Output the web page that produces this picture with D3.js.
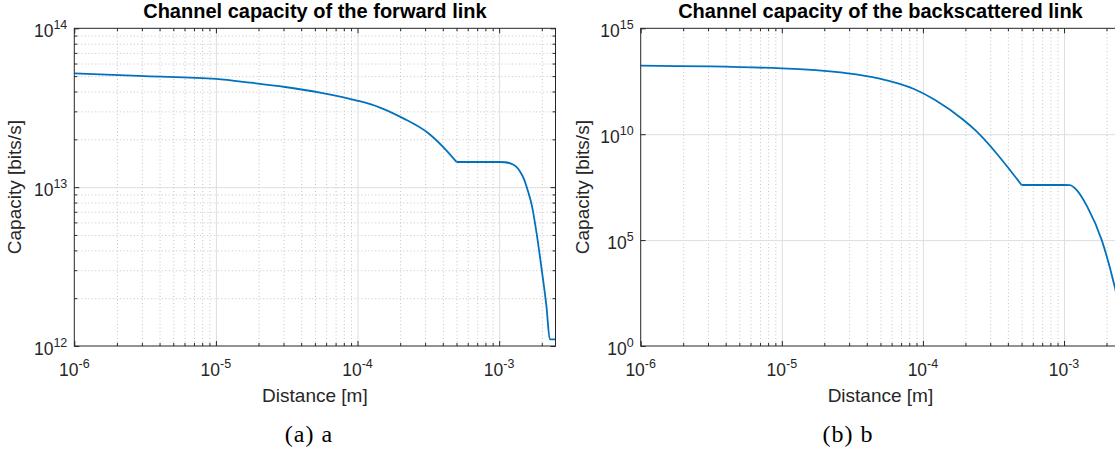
<!DOCTYPE html>
<html>
<head>
<meta charset="utf-8">
<script src="https://cdn.jsdelivr.net/npm/d3@7"></script>
<style>
  body { margin: 0; background: #fff; }
  svg { display: block; }
</style>
</head>
<body>
<div id="chart"></div>
<script>
// values: distance [m] -> capacity [bits/s]
let fwdDistance = [1e-6, 3.16e-6, 1e-5, 1.74e-5, 3.08e-5, 5.43e-5, 9.9e-5, 1.44e-4, 2.09e-4, 3.15e-4, 4.22e-4, 5e-4,
                   7e-4, 1e-3, 1.1e-3, 1.2e-3, 1.3e-3, 1.4e-3, 1.5e-3, 1.6e-3, 1.7e-3, 1.84e-3, 2e-3, 2.16e-3, 2.28e-3, 2.5e-3];
let fwdCapacity = [5.2e13, 5.0e13, 4.8e13, 4.55e13, 4.27e13, 3.94e13, 3.51e13, 3.17e13, 2.72e13, 2.19e13, 1.71e13, 1.44e13,
                   1.44e13, 1.44e13, 1.435e13, 1.41e13, 1.36e13, 1.26e13, 1.12e13, 9.4e12, 7.7e12, 5.1e12, 3.0e12, 1.76e12, 1.1e12, 1.1e12];

let bsDistance = [1e-6, 1e-5, 2.71e-5, 4.85e-5, 8.65e-5, 1.22e-4, 1.94e-4, 2.38e-4, 3.26e-4, 4.11e-4, 5e-4,
                  7e-4, 1e-3, 1.1e-3, 1.23e-3, 1.46e-3, 1.85e-3, 2.27e-3, 2.5e-3];
let bsCapacity = [1.71e13, 1.29e13, 8.0e12, 4.36e12, 1.36e12, 4.12e11, 4.68e10, 1.42e10, 1.45e9, 2.15e8, 4.0e7,
                  4.0e7, 4.0e7, 3.9e7, 2.3e7, 3.8e6, 1e5, 760, 45];

// the kink where the curves turn flat
let kinkDistance = 5e-4;

let xTicks = [1e-6, 1e-5, 1e-4, 1e-3];
let fwdYTicks = [1e12, 1e13, 1e14];
let bsYTicks = [1e0, 1e5, 1e10, 1e15];

let titles = ["Channel capacity of the forward link", "Channel capacity of the backscattered link"];
let captions = ["(a) a", "(b) b"];
let xLabel = "Distance [m]";
let yLabel = "Capacity [bits/s]";

let svgWidth = 1115;
let svgHeight = 456;

let svg = d3.select("#chart")
    .append("svg")
    .attr("width", svgWidth)
    .attr("height", svgHeight)
    .style("font-family", "'Liberation Sans', Arial, Helvetica, sans-serif");

let axisColor = "#262626";
let lineColor = "#0072bd";

// minor log ticks 2..9 inside a domain
function minorTicks(lo, hi) {
    let out = [];
    for (let e = Math.floor(Math.log10(lo)); e <= Math.ceil(Math.log10(hi)); e++) {
        for (let k = 2; k <= 9; k++) {
            let v = k * Math.pow(10, e);
            if (v > lo && v < hi) out.push(v);
        }
    }
    return out;
}

function powLabel(sel, v) {
    let e = Math.round(Math.log10(v));
    sel.append("tspan").text("10");
    sel.append("tspan").text(e).attr("dy", -8).style("font-size", "12.5px");
}

function drawPanel(p) {
    let x = d3.scaleLog().domain([1e-6, 2.5e-3]).range([p.left, p.right]);
    let y = d3.scaleLog().domain(p.yDomain).range([p.bottom, p.top]);
    let w = p.right - p.left;
    let h = p.bottom - p.top;

    let g = svg.append("g");

    // minor grid (dotted)
    let xMinor = minorTicks(1e-6, 2.5e-3);
    g.append("g")
        .attr("transform", `translate(0, ${p.bottom})`)
        .call(d3.axisBottom(x).tickValues(xMinor).tickSize(-h).tickFormat(""))
        .call(a => a.select(".domain").remove())
        .selectAll("line")
        .attr("stroke", "#c4c4c4")
        .attr("stroke-dasharray", "1,2.5");

    if (p.yMinor) {
        g.append("g")
            .attr("transform", `translate(${p.left}, 0)`)
            .call(d3.axisLeft(y).tickValues(minorTicks(p.yDomain[0], p.yDomain[1])).tickSize(-w).tickFormat(""))
            .call(a => a.select(".domain").remove())
            .selectAll("line")
            .attr("stroke", "#c4c4c4")
            .attr("stroke-dasharray", "1,2.5");
    }

    // major grid
    g.append("g")
        .attr("transform", `translate(0, ${p.bottom})`)
        .call(d3.axisBottom(x).tickValues(xTicks.slice(1)).tickSize(-h).tickFormat(""))
        .call(a => a.select(".domain").remove())
        .selectAll("line")
        .attr("stroke", "#dedede");
    g.append("g")
        .attr("transform", `translate(${p.left}, 0)`)
        .call(d3.axisLeft(y).tickValues(p.yTicks.slice(1, -1)).tickSize(-w).tickFormat(""))
        .call(a => a.select(".domain").remove())
        .selectAll("line")
        .attr("stroke", "#dedede");

    // the curve, split at the kink so the corner stays sharp
    let clipId = "clip" + p.id;
    svg.append("clipPath").attr("id", clipId)
        .append("rect")
        .attr("x", p.left).attr("y", p.top)
        .attr("width", w).attr("height", h);

    let line = d3.line()
        .x(d => x(d[0]))
        .y(d => y(d[1]))
        .curve(d3.curveMonotoneX);

    let pts = d3.zip(p.dist, p.cap);
    let k = p.dist.indexOf(kinkDistance);
    [pts.slice(0, k + 1), pts.slice(k)].forEach(seg => {
        g.append("path")
            .datum(seg)
            .attr("clip-path", `url(#${clipId})`)
            .attr("d", line)
            .attr("fill", "none")
            .attr("stroke", lineColor)
            .attr("stroke-width", 1.8)
            .attr("stroke-linejoin", "round");
    });

    // tick marks on all four sides, pointing in
    let tickAxes = [
        [d3.axisBottom(x), `translate(0, ${p.bottom})`],
        [d3.axisTop(x), `translate(0, ${p.top})`]
    ];
    tickAxes.forEach(([ax, tr]) => {
        g.append("g").attr("transform", tr)
            .call(ax.tickValues(xMinor).tickSize(-3).tickFormat(""))
            .call(a => a.select(".domain").remove())
            .selectAll("line").attr("stroke", axisColor);
        g.append("g").attr("transform", tr)
            .call(ax.tickValues(xTicks).tickSize(-5).tickFormat(""))
            .call(a => a.select(".domain").remove())
            .selectAll("line").attr("stroke", axisColor);
    });
    [[d3.axisLeft(y), `translate(${p.left}, 0)`], [d3.axisRight(y), `translate(${p.right}, 0)`]].forEach(([ax, tr]) => {
        if (p.yMinor) {
            g.append("g").attr("transform", tr)
                .call(ax.tickValues(minorTicks(p.yDomain[0], p.yDomain[1])).tickSize(-3).tickFormat(""))
                .call(a => a.select(".domain").remove())
                .selectAll("line").attr("stroke", axisColor);
        }
        g.append("g").attr("transform", tr)
            .call(ax.tickValues(p.yTicks).tickSize(-5).tickFormat(""))
            .call(a => a.select(".domain").remove())
            .selectAll("line").attr("stroke", axisColor);
    });

    // box
    g.append("rect")
        .attr("x", p.left).attr("y", p.top)
        .attr("width", w).attr("height", h)
        .attr("fill", "none")
        .attr("stroke", axisColor)
        .attr("stroke-width", 1);

    // tick labels
    g.selectAll(".xlab")
        .data(xTicks)
        .enter()
        .append("text")
        .attr("x", d => x(d))
        .attr("y", p.bottom + 30)
        .attr("text-anchor", "middle")
        .attr("fill", axisColor)
        .style("font-size", "17.5px")
        .each(function(d) { powLabel(d3.select(this), d); });

    g.selectAll(".ylab")
        .data(p.yTicks)
        .enter()
        .append("text")
        .attr("x", p.left - 7)
        .attr("y", d => y(d) + 8.5)
        .attr("text-anchor", "end")
        .attr("fill", axisColor)
        .style("font-size", "17.5px")
        .each(function(d) { powLabel(d3.select(this), d); });

    // title and axis labels
    g.append("text")
        .attr("x", (p.left + p.right) / 2)
        .attr("y", p.top - 10)
        .attr("text-anchor", "middle")
        .style("font-size", "20px")
        .style("font-weight", "bold")
        .attr("fill", "#000")
        .text(p.title);

    g.append("text")
        .attr("x", (p.left + p.right) / 2)
        .attr("y", p.bottom + 56)
        .attr("text-anchor", "middle")
        .style("font-size", "19px")
        .attr("fill", axisColor)
        .text(xLabel);

    g.append("text")
        .attr("transform", `translate(${p.yLabelX}, ${(p.top + p.bottom) / 2}) rotate(-90)`)
        .attr("text-anchor", "middle")
        .style("font-size", "19px")
        .attr("fill", axisColor)
        .text(yLabel);

    g.append("text")
        .attr("x", p.captionX)
        .attr("y", 442)
        .attr("text-anchor", "middle")
        .style("font-family", "'Liberation Serif', 'DejaVu Serif', serif")
        .style("font-size", "24px")
        .style("letter-spacing", "1px")
        .attr("fill", "#000")
        .text(p.caption);
}

drawPanel({
    id: "a", left: 74.3, right: 555.5, top: 28.3, bottom: 346,
    yDomain: [1e12, 1e14], yTicks: fwdYTicks, yMinor: true,
    dist: fwdDistance, cap: fwdCapacity,
    title: titles[0], caption: captions[0], yLabelX: 21, captionX: 309
});

drawPanel({
    id: "b", left: 640.7, right: 1120.2, top: 28.3, bottom: 346,
    yDomain: [1e0, 1e15], yTicks: bsYTicks, yMinor: false,
    dist: bsDistance, cap: bsCapacity,
    title: titles[1], caption: captions[1], yLabelX: 589, captionX: 848
});
</script>
</body>
</html>
